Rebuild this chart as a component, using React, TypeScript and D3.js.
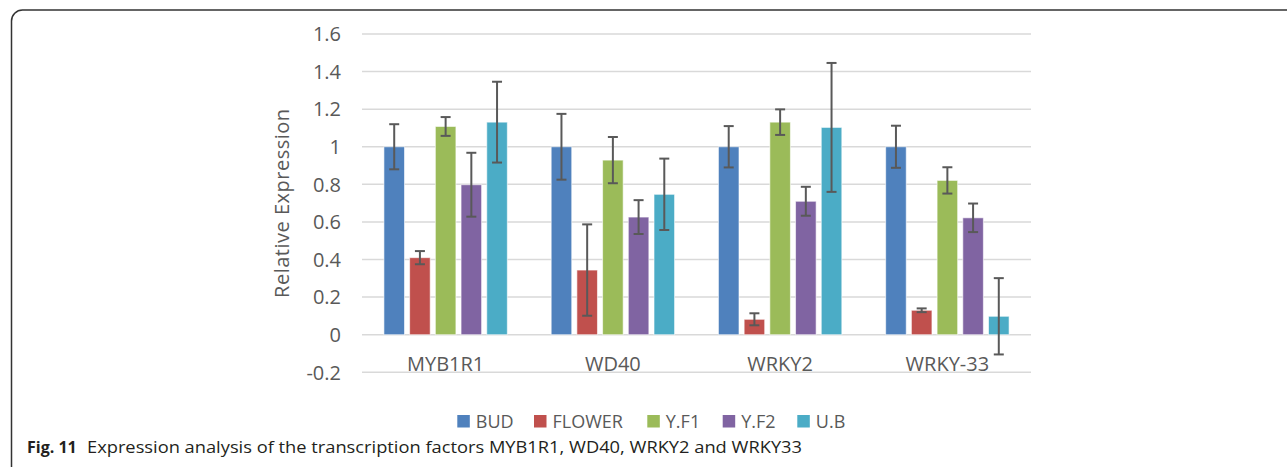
import React from "react";
import * as d3 from "d3";

const categories = ["MYB1R1", "WD40", "WRKY2", "WRKY-33"];
const seriesNames = ["BUD", "FLOWER", "Y.F1", "Y.F2", "U.B"];
const seriesColors = ["#4F81BD", "#C0504D", "#9BBB59", "#8064A2", "#4BACC6"];
// values[series][category]
const budValues = [1.0, 1.0, 1.0, 1.0];
const flowerValues = [0.41, 0.344, 0.082, 0.13];
const yf1Values = [1.108, 0.929, 1.131, 0.821];
const yf2Values = [0.798, 0.626, 0.71, 0.622];
const ubValues = [1.131, 0.747, 1.103, 0.098];
const budErr = [0.12, 0.175, 0.11, 0.112];
const flowerErr = [0.035, 0.243, 0.032, 0.01];
const yf1Err = [0.05, 0.123, 0.068, 0.07];
const yf2Err = [0.17, 0.09, 0.077, 0.076];
const ubErr = [0.215, 0.19, 0.343, 0.203];
const yTicks = [-0.2, 0, 0.2, 0.4, 0.6, 0.8, 1, 1.2, 1.4, 1.6];
const yTickLabels = ["-0.2", "0", "0.2", "0.4", "0.6", "0.8", "1", "1.2", "1.4", "1.6"];
const yTitle = "Relative Expression";
const captionBold = "Fig. 11";
const captionText = "Expression analysis of the transcription factors MYB1R1, WD40, WRKY2 and WRKY33";

const values = [budValues, flowerValues, yf1Values, yf2Values, ubValues];
const errors = [budErr, flowerErr, yf1Err, yf2Err, ubErr];

export default function App() {
  const W = 1287, H = 467;
  const left = 362, right = 1031;
  const y = d3.scaleLinear().domain([-0.2, 1.6]).range([372.3, 34]);
  const x0 = d3.scaleBand().domain(categories).range([left, right]).paddingInner(0).paddingOuter(0);
  const groupW = 123.4;
  const x1 = d3.scaleBand().domain(seriesNames).range([0, groupW]).paddingInner(0.2).paddingOuter(0);
  const bw = x1.bandwidth();
  const font = "'Open Sans', 'Noto Sans', sans-serif";
  const legendX = [457.3, 534, 647.3, 722.7, 797.3];

  return (
    <svg width={W} height={H} style={{ position: "absolute", left: 0, top: 0, background: "#fff" }}>
      <rect x={11.5} y={10} width={1320} height={470} rx={11} fill="#fff" stroke="#333" strokeWidth={1.5} />
      {yTicks.map((t, i) => (
        <g key={t}>
          <line x1={left} x2={right} y1={y(t)} y2={y(t)} stroke="#d9d9d9" strokeWidth={1.5} />
          <text x={341} y={y(t)} dy="0.36em" textAnchor="end" fontFamily={font} fontSize={20} fill="#595959">
            {yTickLabels[i]}
          </text>
        </g>
      ))}
      <text transform={`translate(289,${y(0.7)}) rotate(-90)`} textAnchor="middle" fontFamily={font} fontSize={20} letterSpacing={0.5} fill="#595959">
        {yTitle}
      </text>
      {categories.map((c, ci) => {
        const gx = (x0(c) as number) + (x0.bandwidth() - groupW) / 2;
        return (
          <g key={c}>
            {seriesNames.map((s, si) => {
              const v = values[si][ci];
              const e = errors[si][ci];
              const bx = gx + (x1(s) as number);
              const cx = bx + bw / 2;
              return (
                <g key={s}>
                  <rect x={bx} y={y(Math.max(0, v))} width={bw} height={Math.abs(y(v) - y(0))}
                    fill={seriesColors[si]} stroke="#ffffff" strokeOpacity={0.6} strokeWidth={1} />
                  <line x1={cx} x2={cx} y1={y(v + e)} y2={y(v - e)} stroke="#595959" strokeWidth={2} />
                  <line x1={cx - 5} x2={cx + 5} y1={y(v + e)} y2={y(v + e)} stroke="#595959" strokeWidth={2} />
                  <line x1={cx - 5} x2={cx + 5} y1={y(v - e)} y2={y(v - e)} stroke="#595959" strokeWidth={2} />
                </g>
              );
            })}
            <text x={(x0(c) as number) + x0.bandwidth() / 2} y={363.5} dy="0.36em" textAnchor="middle" fontFamily={font} fontSize={20} fill="#595959">
              {c}
            </text>
          </g>
        );
      })}
      {seriesNames.map((s, si) => (
        <g key={s}>
          <rect x={legendX[si]} y={415} width={12.5} height={12.5} fill={seriesColors[si]} />
          <text x={legendX[si] + 18.5} y={421.5} dy="0.36em" fontFamily={font} fontSize={18} fill="#595959">{s}</text>
        </g>
      ))}
      <text x={27} y={453} fontFamily={font} fontSize={16} fontWeight="bold" fill="#231f20">{captionBold}</text>
      <text x={87} y={453} fontFamily={font} fontSize={16} fill="#231f20" textLength={715} lengthAdjust="spacingAndGlyphs">{captionText}</text>
    </svg>
  );
}
